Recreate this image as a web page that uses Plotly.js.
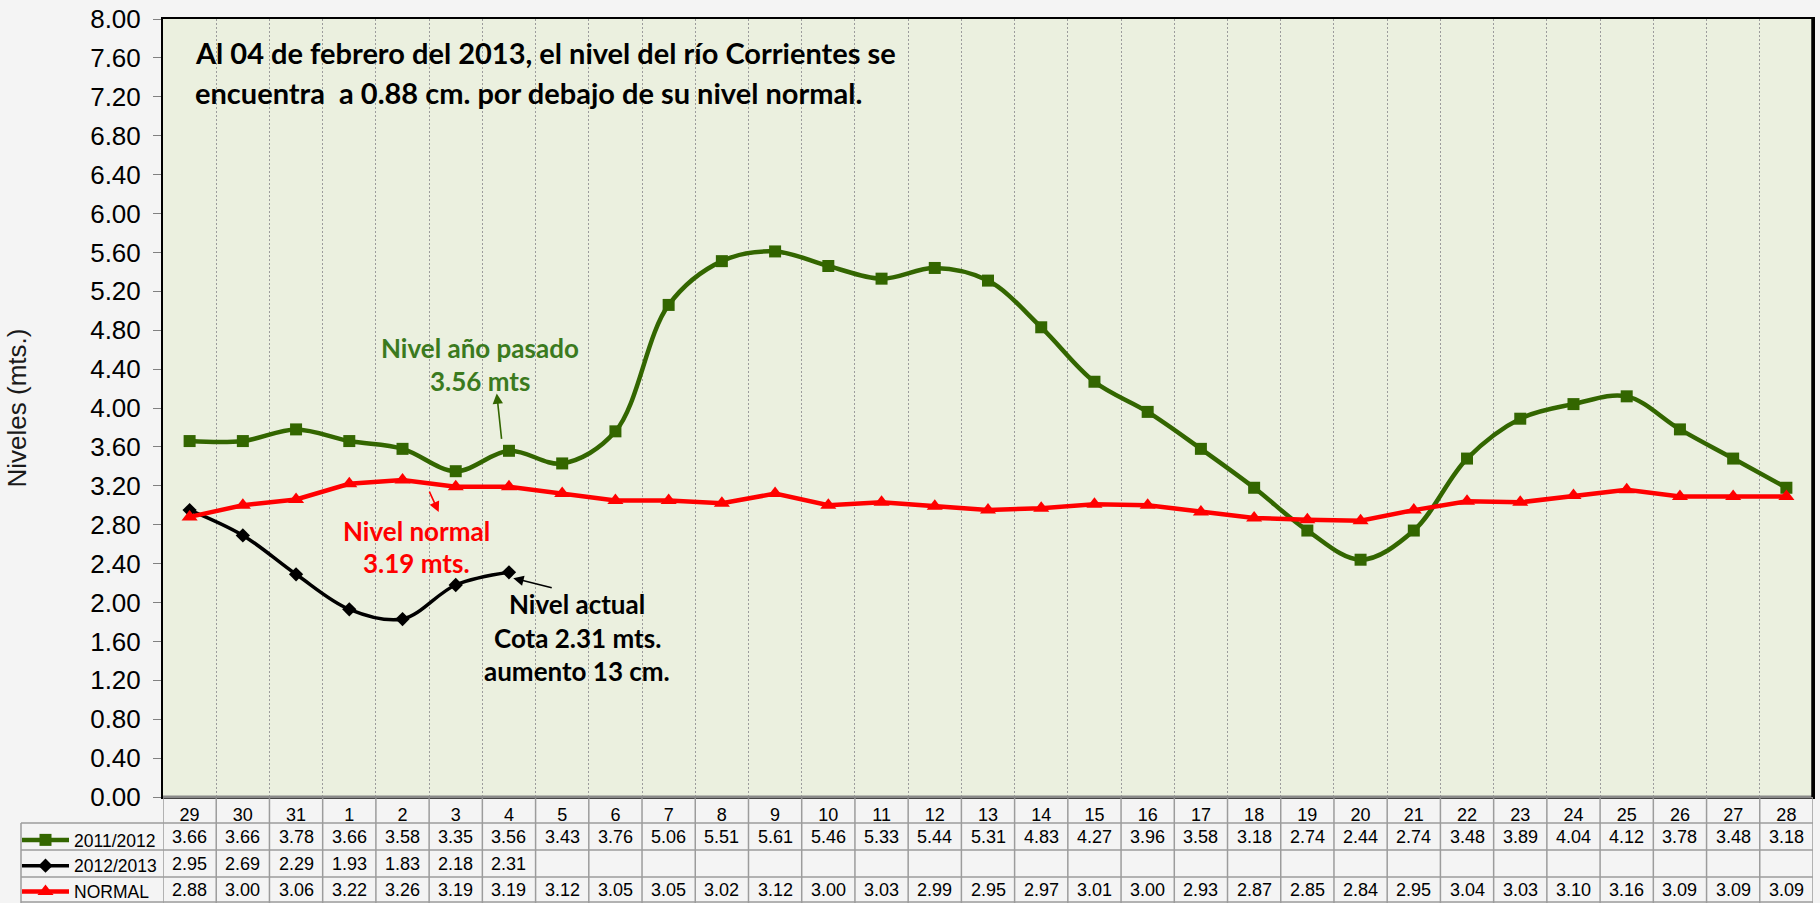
<!DOCTYPE html>
<html>
<head>
<meta charset="utf-8">
<script src="https://cdn.plot.ly/plotly-3.0.1.min.js"></script>
<style>
  html, body { margin: 0; padding: 0; background: #F4F4F4; }
  #chart { width: 1820px; height: 903px; }
</style>
</head>
<body>
<div id="chart"></div>
<script>
// ---- data ----
var days = ["29","30","31","1","2","3","4","5","6","7","8","9","10","11","12","13","14","15","16","17","18","19","20","21","22","23","24","25","26","27","28"];
var nivel2011_2012 = [3.66,3.66,3.78,3.66,3.58,3.35,3.56,3.43,3.76,5.06,5.51,5.61,5.46,5.33,5.44,5.31,4.83,4.27,3.96,3.58,3.18,2.74,2.44,2.74,3.48,3.89,4.04,4.12,3.78,3.48,3.18];
var nivel2012_2013 = [2.95,2.69,2.29,1.93,1.83,2.18,2.31,null,null,null,null,null,null,null,null,null,null,null,null,null,null,null,null,null,null,null,null,null,null,null,null];
var nivelNormal = [2.88,3.00,3.06,3.22,3.26,3.19,3.19,3.12,3.05,3.05,3.02,3.12,3.00,3.03,2.99,2.95,2.97,3.01,3.00,2.93,2.87,2.85,2.84,2.95,3.04,3.03,3.10,3.16,3.09,3.09,3.09];
var seriesNames = ["2011/2012","2012/2013","NORMAL"];
var yTicks = [0,0.4,0.8,1.2,1.6,2.0,2.4,2.8,3.2,3.6,4.0,4.4,4.8,5.2,5.6,6.0,6.4,6.8,7.2,7.6,8.0];

// ---- layout helpers (pixel geometry of the figure) ----
var W = 1820, H = 903;
var M = {l: 163, r: 7, t: 19, b: 106, autoexpand: false};
var plotW = W - M.l - M.r, plotH = H - M.t - M.b;
var plotBottom = H - M.b;
function px2paperX(px) { return (px - M.l) / plotW; }
function py2paperY(py) { return (plotBottom - py) / plotH; }

var GREEN = '#336600', GREEN_TXT = '#3B7A1E', RED = '#FF0000', BLACK = '#000000';
var GRID = '#9C9C9C';

var traces = [
  {x: days, y: nivel2011_2012, name: seriesNames[0], type: 'scatter', mode: 'lines+markers',
   line: {color: GREEN, width: 4.5, shape: 'spline', smoothing: 1},
   marker: {symbol: 'square', size: 12, color: GREEN}, hoverinfo: 'x+y+name'},
  {x: days, y: nivel2012_2013, name: seriesNames[1], type: 'scatter', mode: 'lines+markers',
   line: {color: BLACK, width: 3.5, shape: 'spline', smoothing: 1},
   marker: {symbol: 'diamond', size: 11, color: BLACK}, connectgaps: false, hoverinfo: 'x+y+name'},
  {x: days, y: nivelNormal, name: seriesNames[2], type: 'scatter', mode: 'lines+markers',
   line: {color: RED, width: 4.5},
   marker: {symbol: 'triangle-up', size: 14, color: RED}, hoverinfo: 'x+y+name'}
];

// ---- table below the plot (annotations + shapes) ----
var rowTop = [797, 823, 850, 877];
var rowBottom = [823, 850, 877, 903];
var rowSeries = [nivel2011_2012, nivel2012_2013, nivelNormal];
var annotations = [];
var shapes = [];
var tableFont = {family: 'Liberation Sans, Arial, sans-serif', size: 18, color: '#000'};

for (var r = 0; r < rowSeries.length; r++) {
  var yc = py2paperY((rowTop[r + 1] + rowBottom[r + 1]) / 2);
  for (var i = 0; i < days.length; i++) {
    var v = rowSeries[r][i];
    if (v === null || v === undefined) continue;
    // category index i on the category x axis
    annotations.push({xref: 'x', yref: 'paper', x: i, y: yc, text: v.toFixed(2),
      showarrow: false, font: tableFont, xanchor: 'center', yanchor: 'middle'});
  }
}
// horizontal table lines
var leftTable = px2paperX(21);
[823, 850, 877, 902].forEach(function (py) {
  shapes.push({type: 'line', xref: 'paper', yref: 'paper', x0: leftTable, x1: 1, y0: py2paperY(py), y1: py2paperY(py),
    line: {color: GRID, width: 1.5}});
});
// vertical table lines at category boundaries
for (var b = 0; b <= days.length; b++) {
  shapes.push({type: 'line', xref: 'x', yref: 'paper', x0: b - 0.5, x1: b - 0.5, y0: 0, y1: py2paperY(903),
    line: {color: GRID, width: 1.5}});
}
shapes.push({type: 'line', xref: 'paper', yref: 'paper', x0: leftTable, x1: leftTable, y0: py2paperY(823), y1: py2paperY(903),
  line: {color: GRID, width: 1.5}});
// plot bottom (grey, thick) and right border (black, thick)
shapes.push({type: 'line', xref: 'paper', yref: 'paper', x0: 0, x1: 1, y0: 0, y1: 0, line: {color: '#8A8A8A', width: 3}});
shapes.push({type: 'line', xref: 'paper', yref: 'paper', x0: 1, x1: 1, y0: 0, y1: 1, line: {color: '#000', width: 3.5}});

// ---- text annotations ----
var boldFont = 'Lato, Carlito, sans-serif';
function textLine(txt, cx, baseline, size, color, anchor) {
  annotations.push({xref: 'paper', yref: 'paper', x: px2paperX(cx), y: py2paperY(baseline - 0.36 * size),
    text: '<b>' + txt + '</b>', showarrow: false, xanchor: anchor || 'center', yanchor: 'middle',
    font: {family: boldFont, size: size, color: color}});
}
textLine('Al 04 de febrero del 2013, el nivel del río Corrientes se', 193, 63, 29, '#000', 'left');
textLine('encuentra &nbsp;a 0.88 cm. por debajo de su nivel normal.', 193, 103, 29, '#000', 'left');
textLine('Nivel año pasado', 480, 357, 26, GREEN_TXT);
textLine('3.56 mts', 480, 390, 26, GREEN_TXT);
textLine('Nivel normal', 416, 540, 26, RED);
textLine('3.19 mts.', 416, 572, 26, RED);
textLine('Nivel actual', 577, 613, 26, BLACK);
textLine('Cota 2.31 mts.', 577, 647.5, 26, BLACK);
textLine('aumento 13 cm.', 577, 680.5, 26, BLACK);

// arrows
annotations.push({xref: 'x', yref: 'y', x: 5.77, y: 4.15, ax: 5, ay: 47, text: '', showarrow: true,
  arrowhead: 2, arrowsize: 1.3, arrowwidth: 1.6, arrowcolor: GREEN});
annotations.push({xref: 'x', yref: 'y', x: 4.68, y: 2.93, ax: -10, ay: -22, text: '', showarrow: true,
  arrowhead: 2, arrowsize: 1.3, arrowwidth: 1.6, arrowcolor: RED});
annotations.push({xref: 'x', yref: 'y', x: 6.08, y: 2.25, ax: 40, ay: 10, text: '', showarrow: true,
  arrowhead: 2, arrowsize: 1.3, arrowwidth: 1.6, arrowcolor: BLACK});

var layout = {
  width: W, height: H,
  margin: M,
  paper_bgcolor: '#F4F4F4',
  plot_bgcolor: '#EBF0DF',
  font: {family: 'Liberation Sans, Arial, sans-serif', color: '#000'},
  showlegend: true,
  legend: {x: px2paperX(17), xanchor: 'left', y: py2paperY(822), yanchor: 'top',
    bgcolor: 'rgba(0,0,0,0)', borderwidth: 0, font: {family: 'Liberation Sans, Arial, sans-serif', size: 17.5, color: '#000'},
    itemwidth: 47, tracegroupgap: 0, traceorder: 'normal'},
  xaxis: {type: 'category', categoryorder: 'array', categoryarray: days,
    range: [-0.5, days.length - 0.5], fixedrange: true,
    tickson: 'boundaries', ticks: '', showgrid: true, griddash: '2px,2px', gridcolor: GRID, gridwidth: 1,
    showline: true, linecolor: '#000', linewidth: 2, mirror: true,
    tickfont: {family: 'Liberation Sans, Arial, sans-serif', size: 18, color: '#000'}, zeroline: false},
  yaxis: {range: [0, 8], tickmode: 'array', tickvals: yTicks, tickformat: '.2f', fixedrange: true,
    ticks: 'outside', ticklen: 8, tickcolor: '#808080', tickwidth: 1, ticklabelstandoff: 7,
    showgrid: false, zeroline: false, showline: true, linecolor: '#000', linewidth: 2, mirror: true,
    tickfont: {family: 'Liberation Sans, Arial, sans-serif', size: 26, color: '#000'},
    title: {text: 'Niveles (mts.)', standoff: 56, font: {family: 'Liberation Sans, Arial, sans-serif', size: 26, color: '#1a1a1a'}},
    automargin: false},
  shapes: shapes,
  annotations: annotations
};

Plotly.newPlot('chart', traces, layout, {displayModeBar: false, staticPlot: false});
</script>
</body>
</html>
